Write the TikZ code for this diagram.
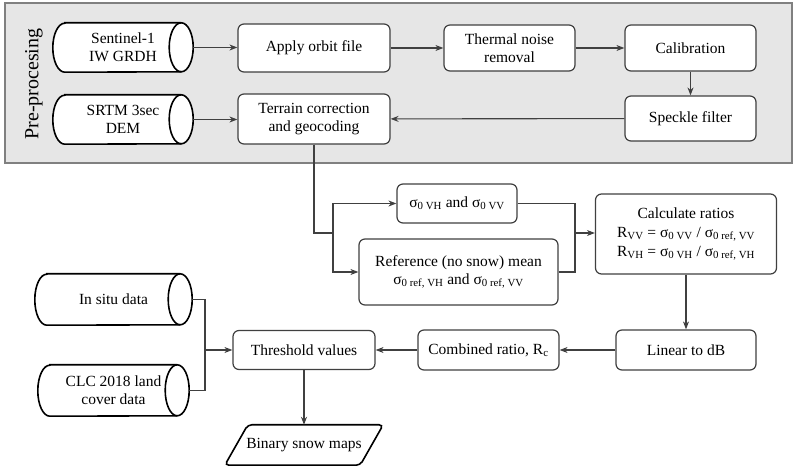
\documentclass[tikz,border=0pt]{standalone}
\usepackage{fontspec}
\setmainfont{Liberation Serif}
\usetikzlibrary{arrows.meta}
\definecolor{panelfill}{HTML}{E6E6E6}
\definecolor{panelline}{HTML}{808080}
\definecolor{boxline}{HTML}{404040}
\pgfdeclarelayer{back}
\pgfdeclarelayer{mid}
\pgfsetlayers{back,mid,main}
\newcommand{\drawcyl}[2]{%
  \begin{pgfonlayer}{mid}
  \draw[cylline] ([xshift=12pt]#1.north west) -- ([xshift=-12pt]#1.north east)
     arc[start angle=90,end angle=-90,x radius=12pt,y radius=#2]
     -- ([xshift=12pt]#1.south west)
     arc[start angle=270,end angle=90,x radius=12pt,y radius=#2] -- cycle;
  \draw[cylline,fill=none] ([xshift=-12pt]#1.north east)
     arc[start angle=90,end angle=270,x radius=12pt,y radius=#2];
  \end{pgfonlayer}}
\begin{document}
\begin{tikzpicture}[x=1pt,y=-1pt,
  every node/.style={font=\fontsize{15.5}{18}\selectfont},
  procbox/.style={draw=boxline,line width=1.2pt,fill=white,rounded corners=6pt,align=center,inner sep=2pt},
  datacyl/.style={align=center,inner sep=0pt},
  cylline/.style={draw=black,line width=1.6pt,fill=white},
  outshape/.style={align=center,inner sep=0pt},
  conn/.style={draw=boxline,line width=1.1pt,-{Stealth[length=8pt,width=6pt]}},
  plainconn/.style={draw=boxline,line width=1.1pt}]
\useasboundingbox (0,0) rectangle (796,470);
\begin{pgfonlayer}{back}
\fill[white] (0,0) rectangle (796,470);
\draw[panelline,fill=panelfill,line width=1.8pt] (5,3) rectangle (792,163);
\end{pgfonlayer}
\node[rotate=90,font=\fontsize{20}{24}\selectfont] (pre) at (34,84) {Pre-procesing};

\node[datacyl,minimum width=140pt,minimum height=49pt] (s1) at (123,47.5) {Sentinel-1\\IW GRDH};
\drawcyl{s1}{24.5pt}
\node[datacyl,minimum width=140pt,minimum height=49pt] (srtm) at (123,119.5) {SRTM 3sec\\DEM};
\drawcyl{srtm}{24.5pt}
\node[procbox,minimum width=152pt,minimum height=48pt] (orbit) at (314,48) {Apply orbit file};
\node[procbox,minimum width=131pt,minimum height=46pt] (thermal) at (509.5,48) {Thermal noise\\removal};
\node[procbox,minimum width=131pt,minimum height=46pt] (calib) at (690.5,48) {Calibration};
\node[procbox,minimum width=131pt,minimum height=45pt] (speckle) at (690.5,118.5) {Speckle filter};
\node[procbox,minimum width=152pt,minimum height=50pt] (terrain) at (314,119) {Terrain correction\\and geocoding};

\node[procbox,minimum width=120pt,minimum height=39pt] (sigma) at (457,203.5) {σ\textsubscript{0 VH} and σ\textsubscript{0 VV}};
\node[procbox,minimum width=199pt,minimum height=66pt] (ref) at (458.5,272) {Reference (no snow) mean\\σ\textsubscript{0 ref, VH} and σ\textsubscript{0 ref, VV}};
\node[procbox,minimum width=181pt,minimum height=80pt,font=\fontsize{15.5}{19}\selectfont] (calc) at (686,234) {Calculate ratios\\R\textsubscript{VV} = σ\textsubscript{0 VV} / σ\textsubscript{0 ref, VV}\\R\textsubscript{VH} = σ\textsubscript{0 VH} / σ\textsubscript{0 ref, VH}};
\node[procbox,minimum width=140pt,minimum height=40pt] (lin) at (686,350) {Linear to dB};
\node[procbox,minimum width=141pt,minimum height=40pt] (comb) at (488.5,350) {Combined ratio, R\textsubscript{c}};
\node[procbox,minimum width=142pt,minimum height=39pt] (thr) at (304,350) {Threshold values};
\node[datacyl,minimum width=157pt,minimum height=51pt] (insitu) at (113.5,299.5) {In situ data};
\drawcyl{insitu}{25.5pt}
\node[datacyl,minimum width=151pt,minimum height=51pt] (clc) at (113.5,390.5) {CLC 2018 land\\cover data};
\drawcyl{clc}{25.5pt}
\node[outshape,minimum width=158pt,minimum height=40pt] (bin) at (304,445) {Binary snow maps};
\begin{pgfonlayer}{mid}
\draw[cylline,rounded corners=4pt] ([xshift=23pt]bin.north west) -- (bin.north east) -- ([xshift=-23pt]bin.south east) -- (bin.south west) -- cycle;
\end{pgfonlayer}

\coordinate (j1) at (333,233);
\coordinate (j2) at (575,233);
\coordinate (j3) at (205,350);

\draw[conn] (s1.east) -- (s1.east -| orbit.west);
\draw[conn] (orbit) -- (thermal);
\draw[conn] (thermal) -- (calib);
\draw[conn] (calib) -- (speckle);
\draw[conn] (speckle) -- (terrain);
\draw[conn] (srtm.east) -- (srtm.east -| terrain.west);
\draw[plainconn] (terrain.south) |- (j1);
\draw[conn] (j1) |- (sigma.west);
\draw[conn] (j1) |- (ref.west);
\draw[plainconn] (sigma.east) -| (j2);
\draw[plainconn] (ref.east) -| (j2);
\draw[conn] (j2) -- (j2 -| calc.west);
\draw[conn] (calc) -- (lin);
\draw[conn] (lin) -- (comb);
\draw[conn] (comb) -- (thr);
\draw[plainconn] (insitu.east) -| (j3);
\draw[plainconn] (clc.east) -| (j3);
\draw[conn] (j3) -- (thr.west);
\draw[conn] (thr) -- (bin);
\end{tikzpicture}
\end{document}
